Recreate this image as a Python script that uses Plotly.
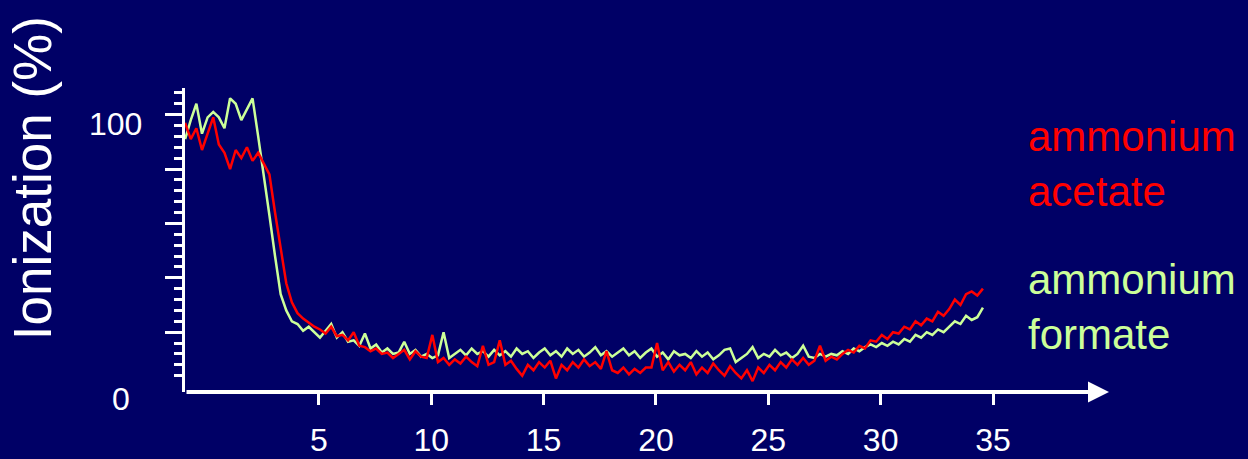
import plotly.graph_objects as go

# ---------------- data ----------------
X_START = -0.95          # first sample (minutes)
X_STEP = 0.25            # sample spacing (minutes)

acetate = [
    99, 93, 97, 89, 95, 101, 91, 88, 82, 89, 86, 90, 85, 88, 84, 80, 66, 53, 40, 33,
    29, 27, 25.5, 24, 23, 21.5, 24, 20.5, 21, 19, 22, 17, 16.5, 15, 16, 14, 14.5, 12.5, 14, 15.5,
    12, 15, 13, 12.5, 21, 11, 12.5, 10, 12, 10.5, 13, 11, 9.5, 17, 10, 11, 19, 10, 11.5, 8.5,
    6, 10, 8, 11, 9, 11.5, 5, 10, 8, 11, 9, 12, 9.5, 11, 8.5, 15, 8, 7, 9, 6.5,
    8.5, 7, 9, 9, 18, 8, 11, 7.5, 10, 8, 11, 6.5, 9, 7, 10.5, 8, 6, 9.5, 7, 5,
    8, 4, 9, 7, 10, 8, 11, 9, 12, 10, 12.5, 10, 11.5, 17, 11.5, 13, 12, 14, 15.5, 14.5,
    17, 16, 19, 18.5, 21, 19.5, 22, 21.5, 24, 23, 26, 24.5, 27, 26, 29.5, 28, 30.5, 34, 32, 36,
    37, 35.5, 38,
]

formate = [
    93, 100, 106, 95, 101, 103, 101, 97, 108, 106, 100, 104, 108, 94, 80, 65, 50, 36, 30, 26,
    25, 22.5, 24, 22, 20, 22.5, 25, 20, 22, 18.5, 19, 17, 21.5, 16, 17.5, 14.5, 16, 14, 14.5, 18.5,
    14, 15.5, 13, 14, 12.5, 13.5, 22, 12.5, 14, 15.5, 13.5, 16, 14, 15, 13, 15.5, 13.5, 15, 13, 16,
    14, 15, 12.5, 14.5, 16, 13.5, 15, 13, 16, 14, 15.5, 13, 14.5, 16.5, 13.5, 15, 13, 14.5, 16, 13.5,
    15, 12.5, 14.5, 16, 13, 14.5, 12, 15, 13.5, 14, 12.5, 15, 13, 14.5, 12, 13.5, 15.5, 16, 11, 12.5,
    14, 16.5, 12.5, 14, 13, 15.5, 13.5, 14.5, 12.5, 14, 17, 13, 12.5, 14, 13, 14, 13.5, 15, 14, 16,
    15, 16.5, 17.5, 16.5, 18, 17, 18.5, 17.5, 19.5, 18.5, 21, 20, 22, 21, 23, 22, 24, 26, 25, 28,
    26.5, 27.5, 31,
]

series_names = ["ammonium<br>acetate", "ammonium<br>formate"]

x_tick_vals = [5, 10, 15, 20, 25, 30, 35]
x_tick_text = ["5", "10", "15", "20", "25", "30", "35"]

y_label_vals = [0, 100]
y_label_text = ["0", "100"]

y_major_ticks = [22, 42, 62, 82, 102]
y_minor_ticks = [6, 10, 14, 18, 26, 30, 34, 38, 46, 50, 54, 58, 66, 70, 74, 78,
                 86, 90, 94, 98, 106, 110]

y_title = "Ionization (%)"

# ---------------- styling ----------------
BG = "#000066"
WHITE = "#ffffff"
RED = "#ff0000"
GREEN = "#ccff99"
FONT = "Liberation Sans, Arial, sans-serif"

X_RANGE = [-0.956, 40.16]
Y_RANGE = [0, 111.8]

x_acetate = [X_START + i * X_STEP for i in range(len(acetate))]
x_formate = [X_START + i * X_STEP for i in range(len(formate))]

fig = go.Figure()
fig.add_trace(go.Scatter(x=x_formate, y=formate, mode="lines",
                         line=dict(color=GREEN, width=2.5), cliponaxis=False,
                         name="formate", showlegend=False))
fig.add_trace(go.Scatter(x=x_acetate, y=acetate, mode="lines",
                         line=dict(color=RED, width=2.5), cliponaxis=False,
                         name="acetate", showlegend=False))

fig.update_layout(
    width=1248, height=459,
    paper_bgcolor=BG, plot_bgcolor=BG,
    margin=dict(l=185, r=139, t=88, b=67, autoexpand=False),
    font=dict(family=FONT, color=WHITE),
    showlegend=False,
)

fig.update_xaxes(
    range=X_RANGE, showgrid=False, zeroline=False, showline=False,
    tickmode="array", tickvals=x_tick_vals, ticktext=x_tick_text,
    ticks="outside", ticklen=12, tickwidth=3, tickcolor=WHITE,
    tickfont=dict(size=32, color=WHITE, family=FONT),
    ticklabelstandoff=8, automargin=False,
)
fig.update_yaxes(
    range=Y_RANGE, showgrid=False, zeroline=False,
    showline=True, linewidth=3, linecolor=WHITE,
    tickmode="array", tickvals=y_major_ticks, showticklabels=False,
    ticks="outside", ticklen=17, tickwidth=3, tickcolor=WHITE,
    minor=dict(tickmode="array", tickvals=y_minor_ticks, ticks="outside",
               ticklen=8, tickwidth=3, tickcolor=WHITE, showgrid=False),
    automargin=False,
)

# x axis with arrow head
fig.add_annotation(x=X_RANGE[1], y=0, xref="x", yref="y",
                   ax=X_RANGE[0], ay=0, axref="x", ayref="y",
                   text="", showarrow=True, arrowhead=2, arrowsize=1.05,
                   arrowwidth=4, arrowcolor=WHITE, startstandoff=0, standoff=0)

# y tick labels (drawn at their values)
y_label_shift = {"0": (-53, -7), "100": (-41, -4)}
for v, t in zip(y_label_vals, y_label_text):
    dx, dy = y_label_shift[t]
    fig.add_annotation(x=X_RANGE[0], y=v, xref="x", yref="y", text=t,
                       showarrow=False, xanchor="right", yanchor="middle",
                       xshift=dx, yshift=dy,
                       font=dict(size=32, color=WHITE, family=FONT))

# y axis title
fig.add_annotation(x=-0.1643, y=0.704, xref="paper", yref="paper",
                   text=y_title, textangle=-90, showarrow=False,
                   xanchor="center", yanchor="middle",
                   font=dict(size=53, color=WHITE, family=FONT))

# series labels
for name, col, ypos in zip(series_names, [RED, GREEN], [0.75, 0.278]):
    fig.add_annotation(x=0.91, y=ypos, xref="paper", yref="paper",
                       text=name, showarrow=False, align="left",
                       xanchor="left", yanchor="middle",
                       font=dict(size=42, color=col, family=FONT))

fig.write_html(
    "out.html",
    config={"displayModeBar": False},
    post_script="document.body.style.margin='0';"
                "document.body.style.backgroundColor='" + BG + "';",
)
